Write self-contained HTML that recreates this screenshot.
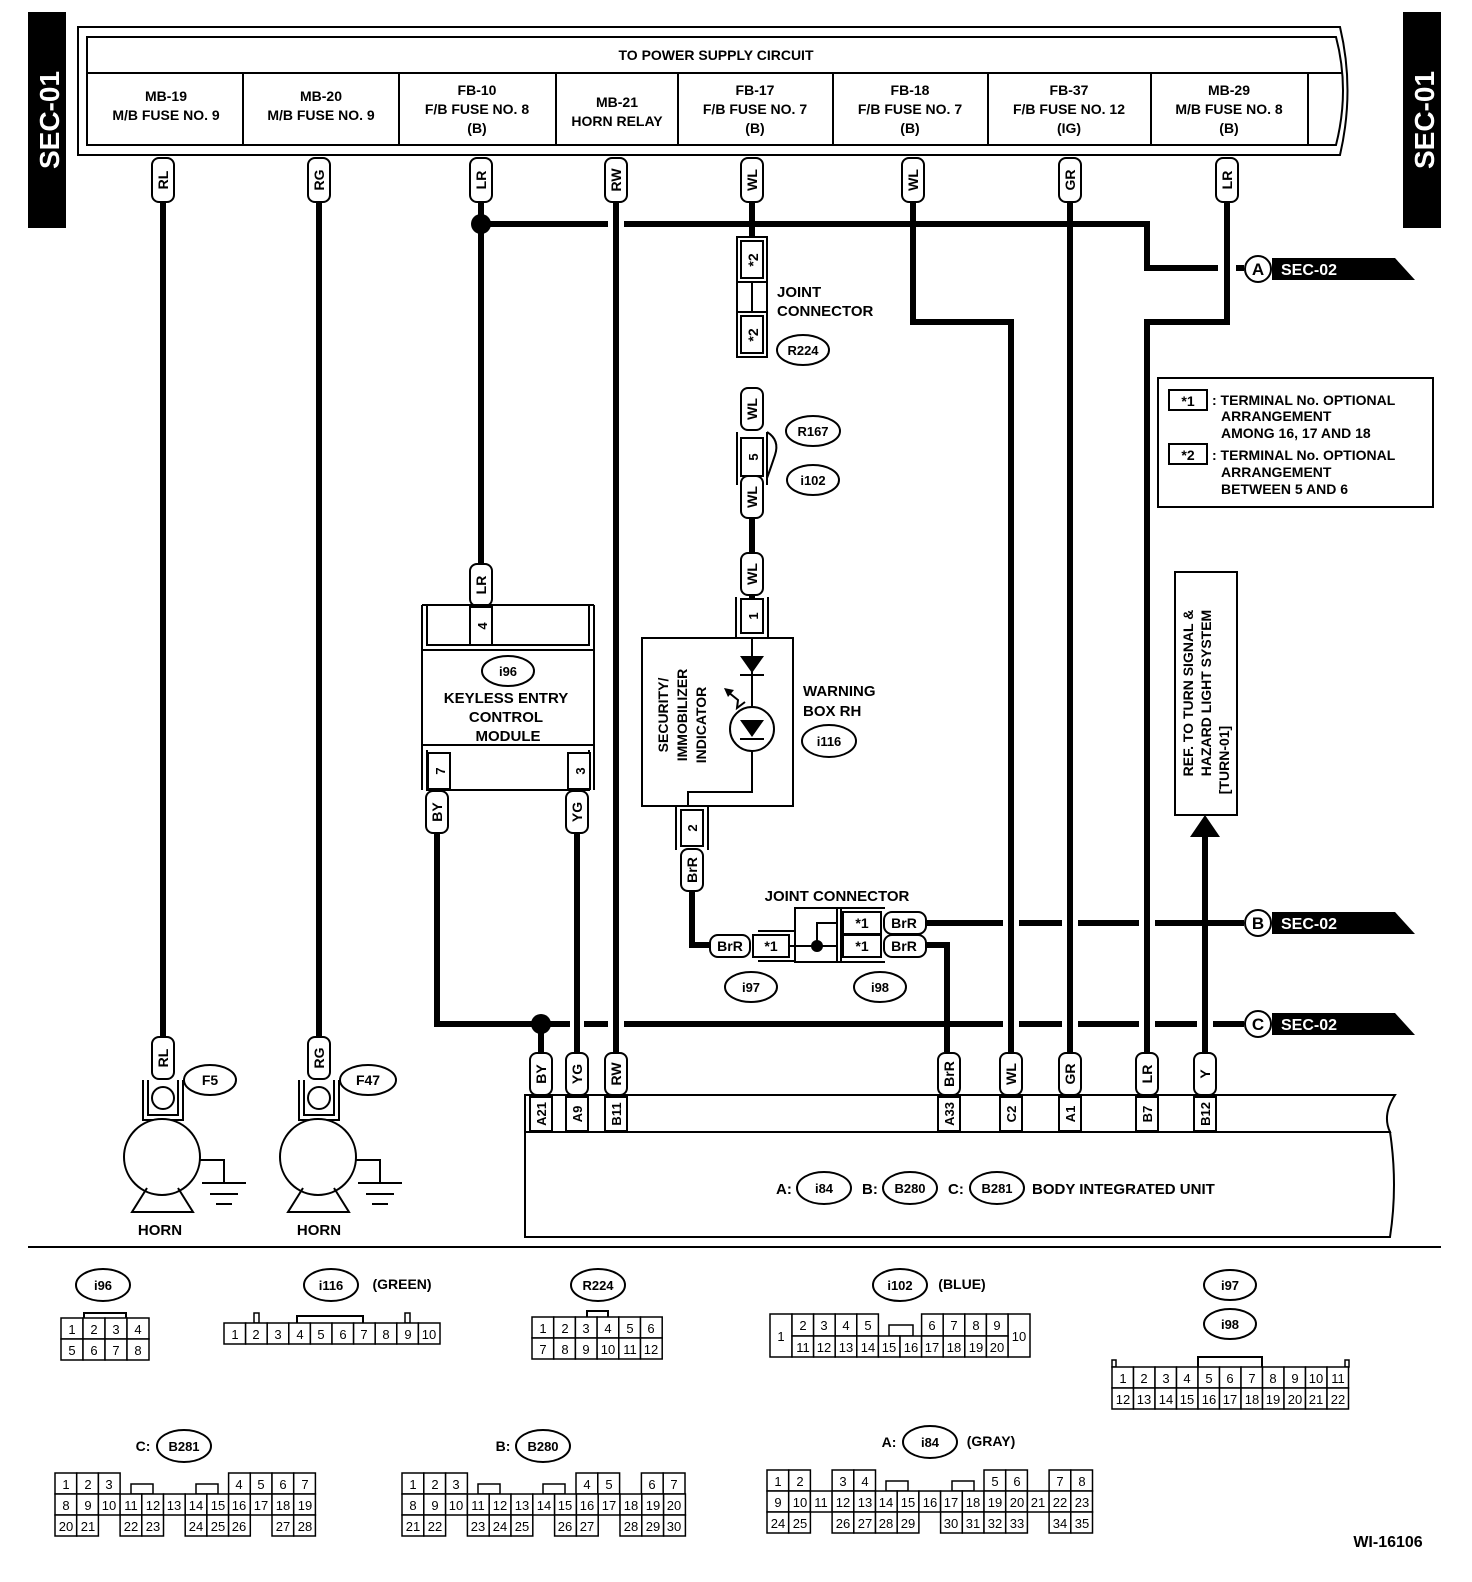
<!DOCTYPE html>
<html><head><meta charset="utf-8"><style>
html,body{margin:0;padding:0;background:#fff;width:1472px;height:1582px;overflow:hidden}
svg{display:block}
text{font-family:"Liberation Sans",sans-serif;font-weight:bold;fill:#000}
.w{stroke:#000;stroke-width:6;fill:none}
.l{stroke:#000;stroke-width:2;fill:none}
.b{stroke:#000;stroke-width:2;fill:#fff}
.c rect{fill:#fff;stroke:#000;stroke-width:1.5}
.c text{font-size:13px;font-weight:normal;text-anchor:middle}
</style></head><body>
<svg width="1472" height="1582" viewBox="0 0 1472 1582" xmlns="http://www.w3.org/2000/svg">
<rect x="28" y="12" width="38" height="216" fill="#000"/>
<text transform="translate(59,120) rotate(-90)" style="fill:#fff;font-size:28px" text-anchor="middle">SEC-01</text>
<rect x="1403" y="12" width="38" height="216" fill="#000"/>
<text transform="translate(1434,120) rotate(-90)" style="fill:#fff;font-size:28px" text-anchor="middle">SEC-01</text>

<path d="M78,27 H1340 Q1355,90 1340,155 H78 Z" class="b" stroke-width="2.5"/>
<path d="M87,37 H1336 Q1350,90 1336,145 H87 Z" class="l" stroke-width="2.5"/>
<line x1="87" y1="73" x2="1342" y2="73" class="l" stroke-width="2.5"/>
<g class="l" stroke-width="2"><line x1="243" y1="73" x2="243" y2="145"/><line x1="399" y1="73" x2="399" y2="145"/><line x1="556" y1="73" x2="556" y2="145"/><line x1="678" y1="73" x2="678" y2="145"/><line x1="833" y1="73" x2="833" y2="145"/><line x1="988" y1="73" x2="988" y2="145"/><line x1="1151" y1="73" x2="1151" y2="145"/><line x1="1308" y1="73" x2="1308" y2="145"/></g>
<g font-size="14" text-anchor="middle">
<text x="716" y="60">TO POWER SUPPLY CIRCUIT</text>
<text x="166" y="101">MB-19</text><text x="166" y="120">M/B FUSE NO. 9</text>
<text x="321" y="101">MB-20</text><text x="321" y="120">M/B FUSE NO. 9</text>
<text x="477" y="95">FB-10</text><text x="477" y="114">F/B FUSE NO. 8</text><text x="477" y="133">(B)</text>
<text x="617" y="107">MB-21</text><text x="617" y="126">HORN RELAY</text>
<text x="755" y="95">FB-17</text><text x="755" y="114">F/B FUSE NO. 7</text><text x="755" y="133">(B)</text>
<text x="910" y="95">FB-18</text><text x="910" y="114">F/B FUSE NO. 7</text><text x="910" y="133">(B)</text>
<text x="1069" y="95">FB-37</text><text x="1069" y="114">F/B FUSE NO. 12</text><text x="1069" y="133">(IG)</text>
<text x="1229" y="95">MB-29</text><text x="1229" y="114">M/B FUSE NO. 8</text><text x="1229" y="133">(B)</text>
</g>

<g class="w">
<path d="M163,200 V1040"/>
<path d="M319,200 V1040"/>
<path d="M481,200 V565"/>
<path d="M616,200 V1052"/>
<path d="M752,200 V237"/>
<path d="M913,200 V322 H1011 V1052"/>
<path d="M1070,200 V1052"/>
<path d="M1227,200 V322 H1147 V1052"/>
<path d="M481,224 H608 M624,224 H1147 V268 H1218 M1236,268 H1244"/>
<path d="M752,516 V552"/>
<path d="M752,595 V600"/>
<path d="M437,830 V1024 H570 M584,1024 H608 M624,1024 H1003 M1019,1024 H1062 M1078,1024 H1139 M1155,1024 H1197 M1213,1024 H1244"/>
<path d="M541,1024 V1052"/>
<path d="M577,830 V1052"/>
<path d="M692,890 V945 H712"/>
<path d="M925,923 H1003 M1019,923 H1062 M1078,923 H1139 M1155,923 H1244"/>
<path d="M925,945 H947 V1052"/>
<path d="M1205,835 V1052"/>
</g>
<circle cx="481" cy="224" r="10"/>
<circle cx="541" cy="1024" r="10"/>

<g font-size="14">
<g transform="translate(163,180)"><rect x="-11" y="-22" width="22" height="44" rx="7" class="b"/><text transform="rotate(-90)" x="0" y="5" text-anchor="middle">RL</text></g>
<g transform="translate(319,180)"><rect x="-11" y="-22" width="22" height="44" rx="7" class="b"/><text transform="rotate(-90)" x="0" y="5" text-anchor="middle">RG</text></g>
<g transform="translate(481,180)"><rect x="-11" y="-22" width="22" height="44" rx="7" class="b"/><text transform="rotate(-90)" x="0" y="5" text-anchor="middle">LR</text></g>
<g transform="translate(616,180)"><rect x="-11" y="-22" width="22" height="44" rx="7" class="b"/><text transform="rotate(-90)" x="0" y="5" text-anchor="middle">RW</text></g>
<g transform="translate(752,180)"><rect x="-11" y="-22" width="22" height="44" rx="7" class="b"/><text transform="rotate(-90)" x="0" y="5" text-anchor="middle">WL</text></g>
<g transform="translate(913,180)"><rect x="-11" y="-22" width="22" height="44" rx="7" class="b"/><text transform="rotate(-90)" x="0" y="5" text-anchor="middle">WL</text></g>
<g transform="translate(1070,180)"><rect x="-11" y="-22" width="22" height="44" rx="7" class="b"/><text transform="rotate(-90)" x="0" y="5" text-anchor="middle">GR</text></g>
<g transform="translate(1227,180)"><rect x="-11" y="-22" width="22" height="44" rx="7" class="b"/><text transform="rotate(-90)" x="0" y="5" text-anchor="middle">LR</text></g>
<g transform="translate(752,409)"><rect x="-11" y="-21" width="22" height="42" rx="7" class="b"/><text transform="rotate(-90)" x="0" y="5" text-anchor="middle">WL</text></g>
<g transform="translate(752,497)"><rect x="-11" y="-21" width="22" height="42" rx="7" class="b"/><text transform="rotate(-90)" x="0" y="5" text-anchor="middle">WL</text></g>
<g transform="translate(752,574)"><rect x="-11" y="-21" width="22" height="42" rx="7" class="b"/><text transform="rotate(-90)" x="0" y="5" text-anchor="middle">WL</text></g>
<g transform="translate(481,585)"><rect x="-11" y="-21" width="22" height="42" rx="7" class="b"/><text transform="rotate(-90)" x="0" y="5" text-anchor="middle">LR</text></g>
<g transform="translate(437,812)"><rect x="-11" y="-21" width="22" height="42" rx="7" class="b"/><text transform="rotate(-90)" x="0" y="5" text-anchor="middle">BY</text></g>
<g transform="translate(577,812)"><rect x="-11" y="-21" width="22" height="42" rx="7" class="b"/><text transform="rotate(-90)" x="0" y="5" text-anchor="middle">YG</text></g>
<g transform="translate(692,870)"><rect x="-11" y="-21" width="22" height="42" rx="7" class="b"/><text transform="rotate(-90)" x="0" y="5" text-anchor="middle">BrR</text></g>
<g transform="translate(163,1058)"><rect x="-11" y="-21" width="22" height="42" rx="7" class="b"/><text transform="rotate(-90)" x="0" y="5" text-anchor="middle">RL</text></g>
<g transform="translate(319,1058)"><rect x="-11" y="-21" width="22" height="42" rx="7" class="b"/><text transform="rotate(-90)" x="0" y="5" text-anchor="middle">RG</text></g>
<g transform="translate(541,1074)"><rect x="-11" y="-21" width="22" height="42" rx="7" class="b"/><text transform="rotate(-90)" x="0" y="5" text-anchor="middle">BY</text></g>
<g transform="translate(577,1074)"><rect x="-11" y="-21" width="22" height="42" rx="7" class="b"/><text transform="rotate(-90)" x="0" y="5" text-anchor="middle">YG</text></g>
<g transform="translate(616,1074)"><rect x="-11" y="-21" width="22" height="42" rx="7" class="b"/><text transform="rotate(-90)" x="0" y="5" text-anchor="middle">RW</text></g>
<g transform="translate(949,1074)"><rect x="-11" y="-21" width="22" height="42" rx="7" class="b"/><text transform="rotate(-90)" x="0" y="5" text-anchor="middle">BrR</text></g>
<g transform="translate(1011,1074)"><rect x="-11" y="-21" width="22" height="42" rx="7" class="b"/><text transform="rotate(-90)" x="0" y="5" text-anchor="middle">WL</text></g>
<g transform="translate(1070,1074)"><rect x="-11" y="-21" width="22" height="42" rx="7" class="b"/><text transform="rotate(-90)" x="0" y="5" text-anchor="middle">GR</text></g>
<g transform="translate(1147,1074)"><rect x="-11" y="-21" width="22" height="42" rx="7" class="b"/><text transform="rotate(-90)" x="0" y="5" text-anchor="middle">LR</text></g>
<g transform="translate(1205,1074)"><rect x="-11" y="-21" width="22" height="42" rx="7" class="b"/><text transform="rotate(-90)" x="0" y="5" text-anchor="middle">Y</text></g>
</g>

<rect x="737" y="237" width="30" height="120" class="b"/>
<line x1="737" y1="282" x2="767" y2="282" class="l"/><line x1="737" y1="312" x2="767" y2="312" class="l"/>
<rect x="741" y="241" width="22" height="37" class="b"/><rect x="741" y="316" width="22" height="37" class="b"/>
<line x1="752" y1="282" x2="752" y2="312" class="l"/>
<text transform="translate(758,260) rotate(-90)" font-size="14" text-anchor="middle">*2</text>
<text transform="translate(758,335) rotate(-90)" font-size="14" text-anchor="middle">*2</text>
<text x="777" y="297" font-size="15">JOINT</text><text x="777" y="316" font-size="15">CONNECTOR</text>
<ellipse cx="803" cy="350" rx="26" ry="15" class="b"/><text x="803" y="355" font-size="13" text-anchor="middle">R224</text>

<path d="M737,432 V485 M767,432 V485" class="l"/>
<rect x="741" y="438" width="22" height="38" class="b"/>
<text transform="translate(758,457) rotate(-90)" font-size="13" text-anchor="middle">5</text>
<path d="M767,432 Q780,440 775,455 Q770,470 767,478" class="l"/>
<ellipse cx="813" cy="431" rx="27" ry="15" class="b"/><text x="813" y="436" font-size="13" text-anchor="middle">R167</text>
<ellipse cx="813" cy="480" rx="26" ry="15" class="b"/><text x="813" y="485" font-size="13" text-anchor="middle">i102</text>

<path d="M736,597 V638 M768,597 V638" class="l"/>
<rect x="741" y="599" width="22" height="34" class="b"/>
<text transform="translate(758,616) rotate(-90)" font-size="13" text-anchor="middle">1</text>
<rect x="642" y="638" width="151" height="168" class="b"/>
<path d="M752,638 V792 H688 V806" class="l"/>
<polygon points="740,656 764,656 752,673" /><line x1="740" y1="675" x2="764" y2="675" class="l"/>
<circle cx="752" cy="729" r="22" class="b"/>
<polygon points="740,720 764,720 752,737"/><line x1="740" y1="739" x2="764" y2="739" class="l"/>
<path d="M745,702 L737,708 L738,700 L728,692" class="l"/><polygon points="724,688 734,690 728,697"/>
<text transform="translate(668,715) rotate(-90)" font-size="14" text-anchor="middle">SECURITY/</text>
<text transform="translate(687,715) rotate(-90)" font-size="14" text-anchor="middle">IMMOBILIZER</text>
<text transform="translate(706,725) rotate(-90)" font-size="14" text-anchor="middle">INDICATOR</text>
<text x="803" y="696" font-size="15">WARNING</text><text x="803" y="716" font-size="15">BOX RH</text>
<ellipse cx="829" cy="741" rx="27" ry="16" class="b"/><text x="829" y="746" font-size="13" text-anchor="middle">i116</text>
<path d="M676,806 V850 M708,806 V850" class="l"/>
<rect x="681" y="810" width="22" height="36" class="b"/>
<text transform="translate(697,828) rotate(-90)" font-size="13" text-anchor="middle">2</text>

<text x="837" y="901" font-size="15" text-anchor="middle">JOINT CONNECTOR</text>
<g font-size="14">
<rect x="710" y="935" width="40" height="22" rx="8" class="b"/><text x="730" y="951" text-anchor="middle">BrR</text>
<rect x="753" y="935" width="36" height="22" class="b"/><text x="771" y="951" text-anchor="middle">*1</text>
<path d="M758,931 H795 M758,961 H795" class="l"/>
<rect x="795" y="908" width="42" height="54" class="b"/>
<path d="M789,946 H837 M817,946 V923 H837" class="l"/><circle cx="817" cy="946" r="6"/>
<rect x="837" y="908" width="4" height="54" class="b"/>
<rect x="843" y="912" width="38" height="22" class="b"/><text x="862" y="928" text-anchor="middle">*1</text>
<rect x="843" y="935" width="38" height="22" class="b"/><text x="862" y="951" text-anchor="middle">*1</text>
<path d="M841,908 H885 M841,962 H885" class="l"/>
<rect x="884" y="912" width="42" height="22" rx="8" class="b"/><text x="904" y="928" text-anchor="middle">BrR</text>
<rect x="884" y="935" width="42" height="22" rx="8" class="b"/><text x="904" y="951" text-anchor="middle">BrR</text>
</g>
<ellipse cx="751" cy="987" rx="26" ry="15" class="b"/><text x="751" y="992" font-size="13" text-anchor="middle">i97</text>
<ellipse cx="880" cy="987" rx="26" ry="15" class="b"/><text x="880" y="992" font-size="13" text-anchor="middle">i98</text>

<g font-size="16">
<circle cx="1258" cy="269" r="13" class="b" stroke-width="2.5"/><text x="1258" y="275" text-anchor="middle" font-size="17">A</text>
<polygon points="1272,258 1395,258 1415,280 1272,280"/><text x="1281" y="275" style="fill:#fff">SEC-02</text>
<circle cx="1258" cy="923" r="13" class="b" stroke-width="2.5"/><text x="1258" y="929" text-anchor="middle" font-size="17">B</text>
<polygon points="1272,912 1395,912 1415,934 1272,934"/><text x="1281" y="929" style="fill:#fff">SEC-02</text>
<circle cx="1258" cy="1024" r="13" class="b" stroke-width="2.5"/><text x="1258" y="1030" text-anchor="middle" font-size="17">C</text>
<polygon points="1272,1013 1395,1013 1415,1035 1272,1035"/><text x="1281" y="1030" style="fill:#fff">SEC-02</text>
</g>

<rect x="1158" y="378" width="275" height="129" class="b"/>
<g font-size="14">
<rect x="1169" y="390" width="38" height="20" class="b"/><text x="1188" y="406" text-anchor="middle">*1</text>
<text x="1212" y="405">: TERMINAL No. OPTIONAL</text><text x="1221" y="421">ARRANGEMENT</text><text x="1221" y="438">AMONG 16, 17  AND 18</text>
<rect x="1169" y="444" width="38" height="20" class="b"/><text x="1188" y="460" text-anchor="middle">*2</text>
<text x="1212" y="460">: TERMINAL No. OPTIONAL</text><text x="1221" y="477">ARRANGEMENT</text><text x="1221" y="494">BETWEEN 5 AND 6</text>
</g>

<rect x="1175" y="572" width="62" height="243" class="b"/>
<g font-size="14"><text transform="translate(1193,693) rotate(-90)" text-anchor="middle">REF. TO TURN SIGNAL &amp;</text>
<text transform="translate(1211,693) rotate(-90)" text-anchor="middle">HAZARD LIGHT SYSTEM</text>
<text transform="translate(1229,760) rotate(-90)" text-anchor="middle">[TURN-01]</text></g>
<polygon points="1190,837 1220,837 1205,815"/>

<path d="M422,605 V790 M594,605 V790 M422,605 H594" class="l"/>
<path d="M427,605 V645 H589 V605" class="l"/>
<rect x="470" y="607" width="22" height="38" class="b"/><text transform="translate(487,626) rotate(-90)" font-size="13" text-anchor="middle">4</text>
<line x1="422" y1="650" x2="594" y2="650" class="l"/>
<line x1="422" y1="745" x2="594" y2="745" class="l"/>
<path d="M427,750 V790 H589 V750" class="l"/>
<rect x="428" y="753" width="22" height="36" class="b"/><text transform="translate(445,771) rotate(-90)" font-size="13" text-anchor="middle">7</text>
<rect x="568" y="753" width="22" height="36" class="b"/><text transform="translate(585,771) rotate(-90)" font-size="13" text-anchor="middle">3</text>
<ellipse cx="508" cy="671" rx="26" ry="15" class="b"/><text x="508" y="676" font-size="13" text-anchor="middle">i96</text>
<g font-size="15" text-anchor="middle"><text x="506" y="703">KEYLESS ENTRY</text><text x="506" y="722">CONTROL</text><text x="508" y="741">MODULE</text></g>

<g>
<path d="M143,1080 V1120 H183 V1080 M148,1080 V1115 H178 V1080" class="l"/>
<circle cx="163" cy="1098" r="11" class="b"/>
<circle cx="162" cy="1157" r="38" class="b"/>
<path d="M147,1188 L132,1212 H193 L178,1188" class="l"/>
<path d="M200,1160 H224 V1183 M202,1183 H246 M210,1194 H238 M216,1204 H232" class="l"/>
<ellipse cx="210" cy="1080" rx="26" ry="15" class="b"/><text x="210" y="1085" font-size="14" text-anchor="middle">F5</text>
<text x="160" y="1235" font-size="15" text-anchor="middle">HORN</text>
<path d="M299,1080 V1120 H339 V1080 M304,1080 V1115 H334 V1080" class="l"/>
<circle cx="319" cy="1098" r="11" class="b"/>
<circle cx="318" cy="1157" r="38" class="b"/>
<path d="M303,1188 L288,1212 H349 L334,1188" class="l"/>
<path d="M356,1160 H380 V1183 M358,1183 H402 M366,1194 H394 M372,1204 H388" class="l"/>
<ellipse cx="368" cy="1080" rx="28" ry="15" class="b"/><text x="368" y="1085" font-size="14" text-anchor="middle">F47</text>
<text x="319" y="1235" font-size="15" text-anchor="middle">HORN</text>
</g>

<path d="M525,1095 H1395 Q1382,1115 1390,1132 H525 Z" class="b"/>
<path d="M525,1132 H1390 Q1398,1185 1390,1237 H525 Z" class="b"/>
<g font-size="13">
<rect x="530" y="1097" width="22" height="34" class="b"/><text transform="translate(546,1114) rotate(-90)" text-anchor="middle">A21</text>
<rect x="566" y="1097" width="22" height="34" class="b"/><text transform="translate(582,1114) rotate(-90)" text-anchor="middle">A9</text>
<rect x="605" y="1097" width="22" height="34" class="b"/><text transform="translate(621,1114) rotate(-90)" text-anchor="middle">B11</text>
<rect x="938" y="1097" width="22" height="34" class="b"/><text transform="translate(954,1114) rotate(-90)" text-anchor="middle">A33</text>
<rect x="1000" y="1097" width="22" height="34" class="b"/><text transform="translate(1016,1114) rotate(-90)" text-anchor="middle">C2</text>
<rect x="1059" y="1097" width="22" height="34" class="b"/><text transform="translate(1075,1114) rotate(-90)" text-anchor="middle">A1</text>
<rect x="1136" y="1097" width="22" height="34" class="b"/><text transform="translate(1152,1114) rotate(-90)" text-anchor="middle">B7</text>
<rect x="1194" y="1097" width="22" height="34" class="b"/><text transform="translate(1210,1114) rotate(-90)" text-anchor="middle">B12</text>
</g>
<g font-size="15">
<text x="776" y="1194">A:</text>
<ellipse cx="824" cy="1188" rx="27" ry="16" class="b"/><text x="824" y="1193" font-size="13" text-anchor="middle">i84</text>
<text x="862" y="1194">B:</text>
<ellipse cx="910" cy="1188" rx="27" ry="16" class="b"/><text x="910" y="1193" font-size="13" text-anchor="middle">B280</text>
<text x="948" y="1194">C:</text>
<ellipse cx="997" cy="1188" rx="27" ry="16" class="b"/><text x="997" y="1193" font-size="13" text-anchor="middle">B281</text>
<text x="1032" y="1194">BODY INTEGRATED UNIT</text>
</g>

<line x1="28" y1="1247" x2="1441" y2="1247" class="l" stroke-width="2.5"/>

<g font-size="13" text-anchor="middle">
<ellipse cx="103" cy="1285" rx="27" ry="16" class="b"/><text x="103" y="1290">i96</text>
<ellipse cx="331" cy="1285" rx="27" ry="16" class="b"/><text x="331" y="1290">i116</text><text x="402" y="1289" font-size="14">(GREEN)</text>
<ellipse cx="598" cy="1285" rx="27" ry="16" class="b"/><text x="598" y="1290">R224</text>
<ellipse cx="900" cy="1285" rx="27" ry="16" class="b"/><text x="900" y="1290">i102</text><text x="962" y="1289" font-size="14">(BLUE)</text>
<ellipse cx="1230" cy="1285" rx="26" ry="15" class="b"/><text x="1230" y="1290">i97</text>
<ellipse cx="1230" cy="1324" rx="26" ry="15" class="b"/><text x="1230" y="1329">i98</text>
<text x="143" y="1451" font-size="14">C:</text><ellipse cx="184" cy="1446" rx="27" ry="16" class="b"/><text x="184" y="1451">B281</text>
<text x="503" y="1451" font-size="14">B:</text><ellipse cx="543" cy="1446" rx="27" ry="16" class="b"/><text x="543" y="1451">B280</text>
<text x="889" y="1447" font-size="14">A:</text><ellipse cx="930" cy="1442" rx="27" ry="16" class="b"/><text x="930" y="1447">i84</text><text x="991" y="1446" font-size="14">(GRAY)</text>
<text x="1388" y="1547" font-size="16" font-weight="normal">WI-16106</text>
</g>

<g class="c">
<path d="M84,1318 V1313 H126 V1318" class="l" stroke-width="1.5"/>
<rect x="61" y="1318" width="22" height="21"/><rect x="83" y="1318" width="22" height="21"/><rect x="105" y="1318" width="22" height="21"/><rect x="127" y="1318" width="22" height="21"/>
<rect x="61" y="1339" width="22" height="21"/><rect x="83" y="1339" width="22" height="21"/><rect x="105" y="1339" width="22" height="21"/><rect x="127" y="1339" width="22" height="21"/>
<text x="72" y="1334">1</text><text x="94" y="1334">2</text><text x="116" y="1334">3</text><text x="138" y="1334">4</text>
<text x="72" y="1355">5</text><text x="94" y="1355">6</text><text x="116" y="1355">7</text><text x="138" y="1355">8</text>
<rect x="254" y="1313" width="5" height="10"/><rect x="405" y="1313" width="5" height="10"/>
<path d="M297,1323 V1316 H363 V1323" class="l" stroke-width="1.5"/>
<rect x="224" y="1323" width="21.6" height="21"/><rect x="245.6" y="1323" width="21.6" height="21"/><rect x="267.2" y="1323" width="21.6" height="21"/><rect x="288.8" y="1323" width="21.6" height="21"/><rect x="310.4" y="1323" width="21.6" height="21"/><rect x="332" y="1323" width="21.6" height="21"/><rect x="353.6" y="1323" width="21.6" height="21"/><rect x="375.2" y="1323" width="21.6" height="21"/><rect x="396.8" y="1323" width="21.6" height="21"/><rect x="418.4" y="1323" width="21.6" height="21"/>
<text x="235" y="1339">1</text><text x="256" y="1339">2</text><text x="278" y="1339">3</text><text x="300" y="1339">4</text><text x="321" y="1339">5</text><text x="343" y="1339">6</text><text x="364" y="1339">7</text><text x="386" y="1339">8</text><text x="408" y="1339">9</text><text x="429" y="1339">10</text>
<path d="M587,1317 V1311 H608 V1317" class="l" stroke-width="1.5"/>
<rect x="532" y="1317" width="21.7" height="21"/><rect x="553.7" y="1317" width="21.7" height="21"/><rect x="575.4" y="1317" width="21.7" height="21"/><rect x="597.1" y="1317" width="21.7" height="21"/><rect x="618.8" y="1317" width="21.7" height="21"/><rect x="640.5" y="1317" width="21.7" height="21"/>
<rect x="532" y="1338" width="21.7" height="21"/><rect x="553.7" y="1338" width="21.7" height="21"/><rect x="575.4" y="1338" width="21.7" height="21"/><rect x="597.1" y="1338" width="21.7" height="21"/><rect x="618.8" y="1338" width="21.7" height="21"/><rect x="640.5" y="1338" width="21.7" height="21"/>
<text x="543" y="1333">1</text><text x="565" y="1333">2</text><text x="586" y="1333">3</text><text x="608" y="1333">4</text><text x="630" y="1333">5</text><text x="651" y="1333">6</text>
<text x="543" y="1354">7</text><text x="565" y="1354">8</text><text x="586" y="1354">9</text><text x="608" y="1354">10</text><text x="630" y="1354">11</text><text x="651" y="1354">12</text>
<rect x="770" y="1314" width="22" height="43"/><text x="781" y="1341">1</text>
<rect x="1008" y="1314" width="22" height="43"/><text x="1019" y="1341">10</text>
<rect x="792" y="1314" width="21.6" height="22"/><rect x="813.6" y="1314" width="21.6" height="22"/><rect x="835.2" y="1314" width="21.6" height="22"/><rect x="856.8" y="1314" width="21.6" height="22"/>
<rect x="921.6" y="1314" width="21.6" height="22"/><rect x="943.2" y="1314" width="21.6" height="22"/><rect x="964.8" y="1314" width="21.6" height="22"/><rect x="986.4" y="1314" width="21.6" height="22"/>
<rect x="889" y="1325" width="24" height="11"/>
<text x="803" y="1330">2</text><text x="824" y="1330">3</text><text x="846" y="1330">4</text><text x="868" y="1330">5</text><text x="932" y="1330">6</text><text x="954" y="1330">7</text><text x="976" y="1330">8</text><text x="997" y="1330">9</text>
<rect x="792" y="1336" width="21.6" height="21"/><rect x="813.6" y="1336" width="21.6" height="21"/><rect x="835.2" y="1336" width="21.6" height="21"/><rect x="856.8" y="1336" width="21.6" height="21"/><rect x="878.4" y="1336" width="21.6" height="21"/><rect x="900" y="1336" width="21.6" height="21"/><rect x="921.6" y="1336" width="21.6" height="21"/><rect x="943.2" y="1336" width="21.6" height="21"/><rect x="964.8" y="1336" width="21.6" height="21"/><rect x="986.4" y="1336" width="21.6" height="21"/>
<text x="803" y="1352">11</text><text x="824" y="1352">12</text><text x="846" y="1352">13</text><text x="868" y="1352">14</text><text x="889" y="1352">15</text><text x="911" y="1352">16</text><text x="932" y="1352">17</text><text x="954" y="1352">18</text><text x="976" y="1352">19</text><text x="997" y="1352">20</text>
<rect x="1112" y="1360" width="4" height="7"/><rect x="1345" y="1360" width="4" height="7"/>
<path d="M1198,1367 V1357 H1262 V1367" class="l" stroke-width="1.5"/>
<rect x="1112" y="1367" width="21.5" height="21"/><rect x="1133.5" y="1367" width="21.5" height="21"/><rect x="1155" y="1367" width="21.5" height="21"/><rect x="1176.5" y="1367" width="21.5" height="21"/><rect x="1198" y="1367" width="21.5" height="21"/><rect x="1219.5" y="1367" width="21.5" height="21"/><rect x="1241" y="1367" width="21.5" height="21"/><rect x="1262.5" y="1367" width="21.5" height="21"/><rect x="1284" y="1367" width="21.5" height="21"/><rect x="1305.5" y="1367" width="21.5" height="21"/><rect x="1327" y="1367" width="21.5" height="21"/>
<rect x="1112" y="1388" width="21.5" height="21"/><rect x="1133.5" y="1388" width="21.5" height="21"/><rect x="1155" y="1388" width="21.5" height="21"/><rect x="1176.5" y="1388" width="21.5" height="21"/><rect x="1198" y="1388" width="21.5" height="21"/><rect x="1219.5" y="1388" width="21.5" height="21"/><rect x="1241" y="1388" width="21.5" height="21"/><rect x="1262.5" y="1388" width="21.5" height="21"/><rect x="1284" y="1388" width="21.5" height="21"/><rect x="1305.5" y="1388" width="21.5" height="21"/><rect x="1327" y="1388" width="21.5" height="21"/>
<text x="1123" y="1383">1</text><text x="1144" y="1383">2</text><text x="1166" y="1383">3</text><text x="1187" y="1383">4</text><text x="1209" y="1383">5</text><text x="1230" y="1383">6</text><text x="1252" y="1383">7</text><text x="1273" y="1383">8</text><text x="1295" y="1383">9</text><text x="1316" y="1383">10</text><text x="1338" y="1383">11</text>
<text x="1123" y="1404">12</text><text x="1144" y="1404">13</text><text x="1166" y="1404">14</text><text x="1187" y="1404">15</text><text x="1209" y="1404">16</text><text x="1230" y="1404">17</text><text x="1252" y="1404">18</text><text x="1273" y="1404">19</text><text x="1295" y="1404">20</text><text x="1316" y="1404">21</text><text x="1338" y="1404">22</text>

<rect x="55" y="1473" width="21.7" height="21"/><rect x="76.7" y="1473" width="21.7" height="21"/><rect x="98.4" y="1473" width="21.7" height="21"/>
<rect x="228.6" y="1473" width="21.7" height="21"/><rect x="250.3" y="1473" width="21.7" height="21"/><rect x="272" y="1473" width="21.7" height="21"/><rect x="293.7" y="1473" width="21.7" height="21"/>
<rect x="131" y="1484" width="22" height="10"/><rect x="196" y="1484" width="22" height="10"/>
<text x="66" y="1489">1</text><text x="88" y="1489">2</text><text x="109" y="1489">3</text><text x="239" y="1489">4</text><text x="261" y="1489">5</text><text x="283" y="1489">6</text><text x="305" y="1489">7</text>
<rect x="55" y="1494" width="21.7" height="21"/><rect x="76.7" y="1494" width="21.7" height="21"/><rect x="98.4" y="1494" width="21.7" height="21"/><rect x="120.1" y="1494" width="21.7" height="21"/><rect x="141.8" y="1494" width="21.7" height="21"/><rect x="163.5" y="1494" width="21.7" height="21"/><rect x="185.2" y="1494" width="21.7" height="21"/><rect x="206.9" y="1494" width="21.7" height="21"/><rect x="228.6" y="1494" width="21.7" height="21"/><rect x="250.3" y="1494" width="21.7" height="21"/><rect x="272" y="1494" width="21.7" height="21"/><rect x="293.7" y="1494" width="21.7" height="21"/>
<text x="66" y="1510">8</text><text x="88" y="1510">9</text><text x="109" y="1510">10</text><text x="131" y="1510">11</text><text x="153" y="1510">12</text><text x="174" y="1510">13</text><text x="196" y="1510">14</text><text x="218" y="1510">15</text><text x="239" y="1510">16</text><text x="261" y="1510">17</text><text x="283" y="1510">18</text><text x="305" y="1510">19</text>
<rect x="55" y="1515" width="21.7" height="21"/><rect x="76.7" y="1515" width="21.7" height="21"/><rect x="120.1" y="1515" width="21.7" height="21"/><rect x="141.8" y="1515" width="21.7" height="21"/><rect x="185.2" y="1515" width="21.7" height="21"/><rect x="206.9" y="1515" width="21.7" height="21"/><rect x="228.6" y="1515" width="21.7" height="21"/><rect x="272" y="1515" width="21.7" height="21"/><rect x="293.7" y="1515" width="21.7" height="21"/>
<text x="66" y="1531">20</text><text x="88" y="1531">21</text><text x="131" y="1531">22</text><text x="153" y="1531">23</text><text x="196" y="1531">24</text><text x="218" y="1531">25</text><text x="239" y="1531">26</text><text x="283" y="1531">27</text><text x="305" y="1531">28</text>

<rect x="402" y="1473" width="21.8" height="21"/><rect x="423.8" y="1473" width="21.8" height="21"/><rect x="445.6" y="1473" width="21.8" height="21"/>
<rect x="576" y="1473" width="21.8" height="21"/><rect x="597.8" y="1473" width="21.8" height="21"/><rect x="641.4" y="1473" width="21.8" height="21"/><rect x="663.2" y="1473" width="21.8" height="21"/>
<rect x="478" y="1484" width="22" height="10"/><rect x="543" y="1484" width="22" height="10"/>
<text x="413" y="1489">1</text><text x="435" y="1489">2</text><text x="456" y="1489">3</text><text x="587" y="1489">4</text><text x="609" y="1489">5</text><text x="652" y="1489">6</text><text x="674" y="1489">7</text>
<rect x="402" y="1494" width="21.8" height="21"/><rect x="423.8" y="1494" width="21.8" height="21"/><rect x="445.6" y="1494" width="21.8" height="21"/><rect x="467.4" y="1494" width="21.8" height="21"/><rect x="489.2" y="1494" width="21.8" height="21"/><rect x="511" y="1494" width="21.8" height="21"/><rect x="532.8" y="1494" width="21.8" height="21"/><rect x="554.6" y="1494" width="21.8" height="21"/><rect x="576.4" y="1494" width="21.8" height="21"/><rect x="598.2" y="1494" width="21.8" height="21"/><rect x="620" y="1494" width="21.8" height="21"/><rect x="641.8" y="1494" width="21.8" height="21"/><rect x="663.6" y="1494" width="21.8" height="21"/>
<text x="413" y="1510">8</text><text x="435" y="1510">9</text><text x="456" y="1510">10</text><text x="478" y="1510">11</text><text x="500" y="1510">12</text><text x="522" y="1510">13</text><text x="544" y="1510">14</text><text x="565" y="1510">15</text><text x="587" y="1510">16</text><text x="609" y="1510">17</text><text x="631" y="1510">18</text><text x="653" y="1510">19</text><text x="674" y="1510">20</text>
<rect x="402" y="1515" width="21.8" height="21"/><rect x="423.8" y="1515" width="21.8" height="21"/><rect x="467.4" y="1515" width="21.8" height="21"/><rect x="489.2" y="1515" width="21.8" height="21"/><rect x="511" y="1515" width="21.8" height="21"/><rect x="554.6" y="1515" width="21.8" height="21"/><rect x="576.4" y="1515" width="21.8" height="21"/><rect x="620" y="1515" width="21.8" height="21"/><rect x="641.8" y="1515" width="21.8" height="21"/><rect x="663.6" y="1515" width="21.8" height="21"/>
<text x="413" y="1531">21</text><text x="435" y="1531">22</text><text x="478" y="1531">23</text><text x="500" y="1531">24</text><text x="522" y="1531">25</text><text x="565" y="1531">26</text><text x="587" y="1531">27</text><text x="631" y="1531">28</text><text x="653" y="1531">29</text><text x="674" y="1531">30</text>

<rect x="767" y="1470" width="21.7" height="21"/><rect x="788.7" y="1470" width="21.7" height="21"/>
<rect x="832.1" y="1470" width="21.7" height="21"/><rect x="853.8" y="1470" width="21.7" height="21"/>
<rect x="984" y="1470" width="21.7" height="21"/><rect x="1005.7" y="1470" width="21.7" height="21"/>
<rect x="1049.1" y="1470" width="21.7" height="21"/><rect x="1070.8" y="1470" width="21.7" height="21"/>
<rect x="886" y="1481" width="22" height="10"/><rect x="952" y="1481" width="22" height="10"/>
<text x="778" y="1486">1</text><text x="800" y="1486">2</text><text x="843" y="1486">3</text><text x="865" y="1486">4</text><text x="995" y="1486">5</text><text x="1017" y="1486">6</text><text x="1060" y="1486">7</text><text x="1082" y="1486">8</text>
<rect x="767" y="1491" width="21.7" height="21"/><rect x="788.7" y="1491" width="21.7" height="21"/><rect x="810.4" y="1491" width="21.7" height="21"/><rect x="832.1" y="1491" width="21.7" height="21"/><rect x="853.8" y="1491" width="21.7" height="21"/><rect x="875.5" y="1491" width="21.7" height="21"/><rect x="897.2" y="1491" width="21.7" height="21"/><rect x="918.9" y="1491" width="21.7" height="21"/><rect x="940.6" y="1491" width="21.7" height="21"/><rect x="962.3" y="1491" width="21.7" height="21"/><rect x="984" y="1491" width="21.7" height="21"/><rect x="1005.7" y="1491" width="21.7" height="21"/><rect x="1027.4" y="1491" width="21.7" height="21"/><rect x="1049.1" y="1491" width="21.7" height="21"/><rect x="1070.8" y="1491" width="21.7" height="21"/>
<text x="778" y="1507">9</text><text x="800" y="1507">10</text><text x="821" y="1507">11</text><text x="843" y="1507">12</text><text x="865" y="1507">13</text><text x="886" y="1507">14</text><text x="908" y="1507">15</text><text x="930" y="1507">16</text><text x="951" y="1507">17</text><text x="973" y="1507">18</text><text x="995" y="1507">19</text><text x="1017" y="1507">20</text><text x="1038" y="1507">21</text><text x="1060" y="1507">22</text><text x="1082" y="1507">23</text>
<rect x="767" y="1512" width="21.7" height="21"/><rect x="788.7" y="1512" width="21.7" height="21"/><rect x="832.1" y="1512" width="21.7" height="21"/><rect x="853.8" y="1512" width="21.7" height="21"/><rect x="875.5" y="1512" width="21.7" height="21"/><rect x="897.2" y="1512" width="21.7" height="21"/><rect x="940.6" y="1512" width="21.7" height="21"/><rect x="962.3" y="1512" width="21.7" height="21"/><rect x="984" y="1512" width="21.7" height="21"/><rect x="1005.7" y="1512" width="21.7" height="21"/><rect x="1049.1" y="1512" width="21.7" height="21"/><rect x="1070.8" y="1512" width="21.7" height="21"/>
<text x="778" y="1528">24</text><text x="800" y="1528">25</text><text x="843" y="1528">26</text><text x="865" y="1528">27</text><text x="886" y="1528">28</text><text x="908" y="1528">29</text><text x="951" y="1528">30</text><text x="973" y="1528">31</text><text x="995" y="1528">32</text><text x="1017" y="1528">33</text><text x="1060" y="1528">34</text><text x="1082" y="1528">35</text>
</g>
</svg>
</body></html>
